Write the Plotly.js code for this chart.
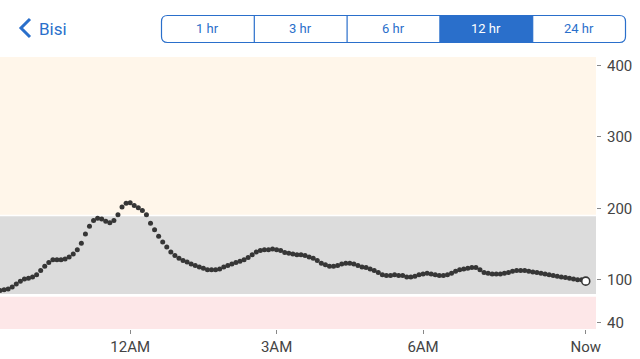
<!DOCTYPE html>
<html>
<head>
<meta charset="utf-8">
<script src="https://cdn.plot.ly/plotly-3.0.1.min.js"></script>
<style>
html,body{margin:0;padding:0;background:#fff;}
#chart{width:640px;height:359px;}
</style>
</head>
<body>
<div id="chart"></div>
<script>
// ---- data ----
var glucose = [85,86,87,90,94,98,101,102,104,107,
  113,119,124,128,128,128,129,132,136,142,
  151,164,175,183,186,185,182,180,183,191,
  202,207,208,204,201,197,191,179,170,161,
  153,146,139,134,130,127,125,122,120,118,
  116,114,114,114,115,118,120,122,124,126,
  128,131,135,139,141,142,142,143,142,141,
  138,137,136,135,135,134,132,130,127,123,
  121,119,119,120,122,123,123,122,120,118,
  117,115,113,110,107,106,106,107,106,106,
  104,104,105,107,108,109,108,107,106,106,
  107,109,112,114,115,116,117,117,114,110,
  109,108,108,108,109,110,112,113,113,113,
  112,111,110,109,108,107,106,105,104,103,
  102,101,100,100,98];
var nowHour = 9 + 20/60;          // "Now" in hours after midnight
var readingStepMin = 5;            // one reading every 5 minutes
var windowHours = 12;
var xTickVals = [0, 3, 6, nowHour];
var xTickText = ['12AM', '3AM', '6AM', 'Now'];
var yTickVals = [40, 100, 200, 300, 400];
var rangeButtons = ['1 hr', '3 hr', '6 hr', '12 hr', '24 hr'];
var selectedRange = '12 hr';
var highBand = [191, 412];
var targetBand = [80, 189];
var lowBand = [31, 76];

var times = glucose.map(function(v, i){
  return nowHour - (glucose.length - 1 - i) * readingStepMin / 60;
});

// ---- layout helpers (pixel -> paper) ----
var W = 640, H = 359, mL = 0, mR = 44, mT = 57, mB = 30;
var pw = W - mL - mR, ph = H - mT - mB;
function px(x){ return (x - mL) / pw; }
function py(y){ return (H - mB - y) / ph; }

var blue = '#2a6fcb';
var shapes = [
  {type:'rect', xref:'paper', yref:'y', x0:0, x1:1, y0:highBand[0], y1:highBand[1], fillcolor:'#fff6ea', line:{width:0}, layer:'below'},
  {type:'rect', xref:'paper', yref:'y', x0:0, x1:1, y0:targetBand[0], y1:targetBand[1], fillcolor:'#dcdcdc', line:{width:0}, layer:'below'},
  {type:'rect', xref:'paper', yref:'y', x0:0, x1:1, y0:lowBand[0], y1:lowBand[1], fillcolor:'#fde7e8', line:{width:0}, layer:'below'}
];

// segmented control
var cL = 161.5, cR = 625.5, cT = 15.5, cB = 42.5, r = 6;
var segW = (cR - cL) / rangeButtons.length;
var selIdx = rangeButtons.indexOf(selectedRange);
var sx0 = cL + selIdx * segW, sx1 = sx0 + segW;
shapes.push({type:'rect', xref:'paper', yref:'paper', x0:px(sx0), x1:px(sx1), y0:py(cB), y1:py(cT), fillcolor:blue, line:{width:0}});
function roundRectPath(x0, y0, x1, y1, rr){
  return 'M' + px(x0 + rr) + ',' + py(y0) +
    ' L' + px(x1 - rr) + ',' + py(y0) +
    ' Q' + px(x1) + ',' + py(y0) + ' ' + px(x1) + ',' + py(y0 + rr) +
    ' L' + px(x1) + ',' + py(y1 - rr) +
    ' Q' + px(x1) + ',' + py(y1) + ' ' + px(x1 - rr) + ',' + py(y1) +
    ' L' + px(x0 + rr) + ',' + py(y1) +
    ' Q' + px(x0) + ',' + py(y1) + ' ' + px(x0) + ',' + py(y1 - rr) +
    ' L' + px(x0) + ',' + py(y0 + rr) +
    ' Q' + px(x0) + ',' + py(y0) + ' ' + px(x0 + rr) + ',' + py(y0) + ' Z';
}
shapes.push({type:'path', xref:'paper', yref:'paper', path: roundRectPath(cL, cT, cR, cB, r), line:{color:blue, width:1.2}, fillcolor:'rgba(0,0,0,0)'});
for (var i = 1; i < rangeButtons.length; i++){
  var dx = cL + i * segW;
  shapes.push({type:'line', xref:'paper', yref:'paper', x0:px(dx), x1:px(dx), y0:py(cB), y1:py(cT), line:{color:blue, width:1.2}});
}
// back chevron
shapes.push({type:'path', xref:'paper', yref:'paper',
  path:'M' + px(30) + ',' + py(19) + ' L' + px(21) + ',' + py(28) + ' L' + px(30) + ',' + py(37),
  line:{color:blue, width:3}});

var annotations = [
  {xref:'paper', yref:'paper', x:px(36.5), y:py(28.5), text:'Bisi', showarrow:false, xanchor:'left', yanchor:'middle', font:{family:'Roboto, sans-serif', size:17, color:blue}}
];
rangeButtons.forEach(function(lbl, i){
  annotations.push({xref:'paper', yref:'paper', x:px(cL + (i + 0.5) * segW), y:py(29), text:lbl, showarrow:false, xanchor:'center', yanchor:'middle',
    font:{family:'Roboto, sans-serif', size:13, color: i === selIdx ? '#ffffff' : blue}});
});

var data = [
  {x: times, y: glucose, type:'scatter', mode:'markers', marker:{color:'#363636', size:5}, hoverinfo:'skip', cliponaxis:false},
  {x: [times[times.length - 1]], y: [glucose[glucose.length - 1]], type:'scatter', mode:'markers',
   marker:{color:'#ffffff', size:8, line:{color:'#363636', width:1.6}}, hoverinfo:'skip', cliponaxis:false}
];

var layout = {
  width: W, height: H,
  margin: {l:mL, r:mR, t:mT, b:mB, pad:0},
  paper_bgcolor:'#ffffff', plot_bgcolor:'#ffffff',
  showlegend:false,
  font:{family:'Roboto, sans-serif', color:'#444'},
  xaxis:{range:[nowHour - windowHours, nowHour + 0.21], tickvals:xTickVals, ticktext:xTickText,
    showgrid:false, zeroline:false, showline:false, ticks:'outside', ticklen:4, tickcolor:'#888', tickwidth:1,
    tickfont:{size:15, color:'#444'}, fixedrange:true},
  yaxis:{range:[31, 412], side:'right', tickvals:yTickVals, showgrid:false, zeroline:false, showline:false,
    ticks:'outside', ticklen:4, tickcolor:'#888', tickwidth:1, ticklabelstandoff:3, tickfont:{size:15, color:'#444'}, fixedrange:true},
  shapes: shapes,
  annotations: annotations
};
Plotly.newPlot('chart', data, layout, {displayModeBar:false, staticPlot:true});
</script>
</body>
</html>
